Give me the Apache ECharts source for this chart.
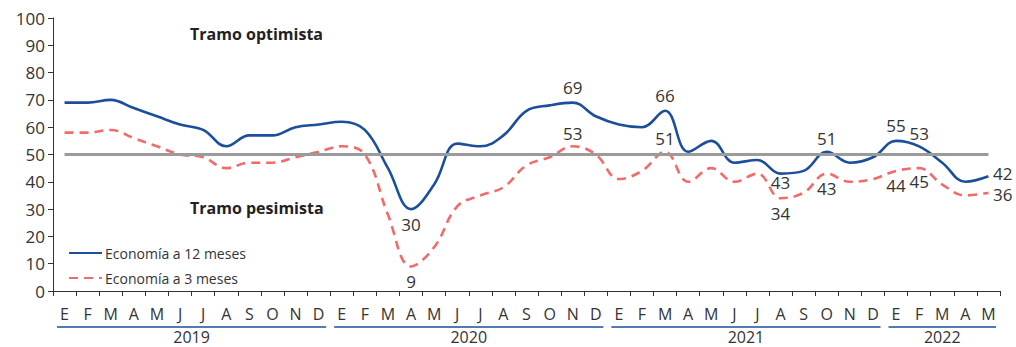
<!DOCTYPE html>
<html>
<head>
<meta charset="utf-8">
<script src="https://cdn.jsdelivr.net/npm/echarts@6/dist/echarts.min.js"></script>
<style>
  html, body { margin: 0; padding: 0; background: #fff; }
  #chart { width: 1016px; height: 347px; }
</style>
</head>
<body>
<div id="chart"></div>
<script>
// meses ene-2019 .. may-2022
var months = ['E','F','M','A','M','J','J','A','S','O','N','D',
              'E','F','M','A','M','J','J','A','S','O','N','D',
              'E','F','M','A','M','J','J','A','S','O','N','D',
              'E','F','M','A','M'];
var yearLabels = ['2019', '2020', '2021', '2022'];
var yearMonths = [12, 12, 12, 5];

// Economía a 12 meses
var eco12 = [69,69,70,67,64,61,59,53,57,57,60,61,
             62,59,45,30,39,54,53,57,66,68,69,64,
             61,60,66,51,55,47,48,43,44,51,47,49,
             55,53,47,40,42];
// Economía a 3 meses
var eco3 = [58,58,59,56,53,50,49,45,47,47,49,51,
            53,50,28,9,16,31,35,38,46,49,53,50,
            41,44,51,40,45,40,43,34,36,43,40,41,
            44,45,39,35,36];
var neutral = 50;
var yTicks = [0, 100, 10]; // min, max, interval

// puntos con etiqueta: indice -> [posicion, distancia, desplazamiento y]
var labels12 = {15: ['bottom', 6, 0], 22: ['top', 6, 0], 26: ['top', 6, 0], 31: ['bottom', 0, 0],
                33: ['top', 4, 0], 36: ['top', 6, 0], 37: ['top', 4, 0], 40: ['right', 4, -3]};
var labels3 = {15: ['bottom', 6, 0], 22: ['top', 4, 0], 26: ['top', 4, 0], 31: ['bottom', 6, 0],
               33: ['bottom', 6, 0], 36: ['bottom', 6, 0], 37: ['bottom', 4, 0], 40: ['right', 4, 2]};

var FONT = "'Open Sans', sans-serif";
var BLUE = '#1b4e9b';
var RED = '#f26b6b';
var TXT = '#333333';

function withLabels (values, labels) {
  return values.map(function (v, i) {
    var l = labels[i];
    if (!l) return v;
    return {
      value: v,
      symbol: 'circle',
      symbolSize: 1,
      itemStyle: { color: 'rgba(0,0,0,0)' },
      label: { show: true, position: l[0], distance: l[1], offset: [0, l[2]] }
    };
  });
}

var myChart = echarts.init(document.getElementById('chart'), null, { renderer: 'svg' });

var option = {
  animation: false,
  grid: { left: 53, right: 16, top: 18, bottom: 56 },
  legend: {
    orient: 'vertical',
    left: 63,
    top: 241,
    itemWidth: 33,
    itemHeight: 14,
    itemGap: 11,
    selectedMode: false,
    itemStyle: { opacity: 0 },
    textStyle: { color: TXT, fontSize: 14, fontFamily: FONT, padding: [0, 0, 0, -2] },
    data: ['Economía a 12 meses', 'Economía a 3 meses']
  },
  xAxis: {
    type: 'category',
    data: months,
    boundaryGap: true,
    axisLine: { lineStyle: { color: '#333', width: 1 } },
    axisTick: { show: true, length: 5, interval: 0, lineStyle: { color: '#333' } },
    axisLabel: { interval: 0, color: TXT, fontSize: 16, fontFamily: FONT, margin: 15 },
    splitLine: { show: false }
  },
  yAxis: {
    type: 'value',
    min: yTicks[0],
    max: yTicks[1],
    interval: yTicks[2],
    axisLine: { show: true, lineStyle: { color: '#333', width: 1 } },
    axisTick: { show: true, length: 5, lineStyle: { color: '#333' } },
    axisLabel: { color: TXT, fontSize: 17, fontFamily: FONT, margin: 8 },
    splitLine: { show: false }
  },
  series: [
    {
      name: 'Economía a 12 meses',
      type: 'line',
      smooth: 0.4,
      symbol: 'none',
      showSymbol: true,
      showAllSymbol: true,
      z: 3,
      lineStyle: { color: BLUE, width: 2.6 },
      itemStyle: { color: BLUE },
      label: { color: TXT, fontSize: 17, fontFamily: FONT },
      data: withLabels(eco12, labels12),
      markLine: {
        silent: true,
        symbol: 'none',
        label: { show: false },
        lineStyle: { color: '#9b9b9b', width: 3, type: 'solid' },
        data: [[{ xAxis: 0, yAxis: neutral }, { xAxis: months.length - 1, yAxis: neutral }]]
      }
    },
    {
      name: 'Economía a 3 meses',
      type: 'line',
      smooth: 0.4,
      symbol: 'none',
      showSymbol: true,
      showAllSymbol: true,
      z: 2,
      lineStyle: { color: RED, width: 2.6, type: [9, 6] },
      itemStyle: { color: RED },
      label: { color: TXT, fontSize: 17, fontFamily: FONT },
      data: withLabels(eco3, labels3)
    }
  ],
  graphic: [
    {
      type: 'text', left: 190, top: 26,
      style: { text: 'Tramo optimista', fill: '#222', font: "bold 16px " + FONT }
    },
    {
      type: 'text', left: 190, top: 200,
      style: { text: 'Tramo pesimista', fill: '#222', font: "bold 16px " + FONT }
    }
  ]
};

myChart.setOption(option);

// años y subrayados bajo el eje, usando la escala del eje x
function drawYears () {
  var x0 = myChart.convertToPixel({ xAxisIndex: 0 }, 0);
  var x1 = myChart.convertToPixel({ xAxisIndex: 0 }, 1);
  var half = (x1 - x0) / 2;
  var els = [];
  var start = 0;
  yearLabels.forEach(function (yr, k) {
    var end = start + yearMonths[k] - 1;
    var a = myChart.convertToPixel({ xAxisIndex: 0 }, start) - half + 4;
    var b = myChart.convertToPixel({ xAxisIndex: 0 }, end) + half - 4;
    els.push({
      type: 'line',
      shape: { x1: a, y1: 327, x2: b, y2: 327 },
      style: { stroke: BLUE, lineWidth: 1.5 },
      silent: true
    });
    els.push({
      type: 'text',
      x: (a + b) / 2,
      y: 337,
      style: { text: yr, fill: TXT, font: '16px ' + FONT, align: 'center', verticalAlign: 'middle' },
      silent: true
    });
    start = end + 1;
  });
  myChart.setOption({ graphic: option.graphic.concat(els) });
}
drawYears();
</script>
</body>
</html>
